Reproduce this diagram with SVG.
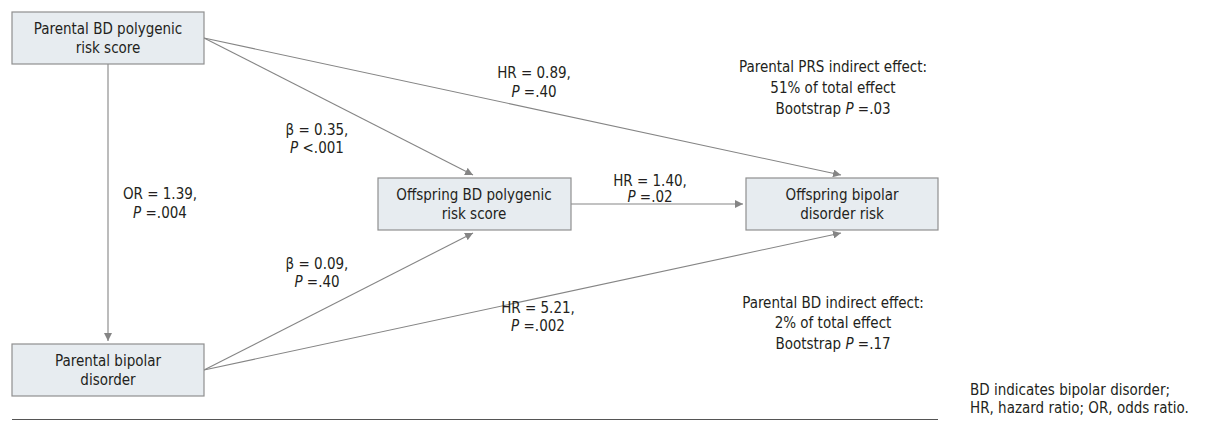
<svg xmlns="http://www.w3.org/2000/svg" width="1216" height="421" viewBox="0 0 1216 421">
<defs>
<style>
.box{fill:#e7ecf0;stroke:#8f8f8f;stroke-width:1.2}
.t{font-family:"DejaVu Sans Condensed","Liberation Sans",Arial,sans-serif;font-size:15px;fill:#231f20;text-anchor:middle}
.l{font-family:"DejaVu Sans Condensed","Liberation Sans",Arial,sans-serif;font-size:15px;fill:#231f20}
.e{stroke:#858585;stroke-width:1.1;fill:none}
</style>
<marker id="ah" viewBox="0 0 10 10" refX="10" refY="5" markerWidth="8" markerHeight="8" markerUnits="userSpaceOnUse" orient="auto">
<path d="M0,0 L10,5 L0,10 Z" fill="#858585"/>
</marker>
</defs>
<rect width="1216" height="421" fill="#ffffff"/>
<g id="connectors">
<line class="e" x1="108" y1="64" x2="108" y2="341" marker-end="url(#ah)"/>
<line class="e" x1="204" y1="38" x2="473" y2="175" marker-end="url(#ah)"/>
<line class="e" x1="204" y1="38" x2="841" y2="175" marker-end="url(#ah)"/>
<line class="e" x1="204" y1="370" x2="473" y2="233" marker-end="url(#ah)"/>
<line class="e" x1="204" y1="370" x2="841" y2="233" marker-end="url(#ah)"/>
<line class="e" x1="571" y1="204" x2="743" y2="204" marker-end="url(#ah)"/>
</g>
<g id="node-parental-prs">
<rect class="box" x="12" y="12" width="192" height="52"/>
<text class="t" x="108" y="34">Parental BD polygenic</text>
<text class="t" x="108" y="53">risk score</text>
</g>
<g id="node-parental-bd">
<rect class="box" x="12" y="344" width="192" height="52"/>
<text class="t" x="108" y="366">Parental bipolar</text>
<text class="t" x="108" y="385">disorder</text>
</g>
<g id="node-offspring-prs">
<rect class="box" x="378" y="178" width="193" height="52"/>
<text class="t" x="474" y="200">Offspring BD polygenic</text>
<text class="t" x="474" y="219">risk score</text>
</g>
<g id="node-offspring-bd">
<rect class="box" x="746" y="178" width="192" height="52"/>
<text class="t" x="842" y="200">Offspring bipolar</text>
<text class="t" x="842" y="219">disorder risk</text>
</g>
<g id="labels">
<text class="t" x="534" y="78">HR = 0.89,</text>
<text class="t" x="534" y="97"><tspan font-style="italic">P</tspan> =.40</text>
<text class="t" x="317" y="135">β = 0.35,</text>
<text class="t" x="317" y="153"><tspan font-style="italic">P</tspan> &lt;.001</text>
<text class="t" x="160" y="199">OR = 1.39,</text>
<text class="t" x="160" y="218"><tspan font-style="italic">P</tspan> =.004</text>
<text class="t" x="317" y="269">β = 0.09,</text>
<text class="t" x="317" y="287"><tspan font-style="italic">P</tspan> =.40</text>
<text class="t" x="650" y="186">HR = 1.40,</text>
<text class="t" x="650" y="202"><tspan font-style="italic">P</tspan> =.02</text>
<text class="t" x="538" y="313">HR = 5.21,</text>
<text class="t" x="538" y="331"><tspan font-style="italic">P</tspan> =.002</text>
<text class="t" x="833" y="72">Parental PRS indirect effect:</text>
<text class="t" x="833" y="93">51% of total effect</text>
<text class="t" x="833" y="114">Bootstrap <tspan font-style="italic">P</tspan> =.03</text>
<text class="t" x="833" y="308">Parental BD indirect effect:</text>
<text class="t" x="833" y="328">2% of total effect</text>
<text class="t" x="833" y="349">Bootstrap <tspan font-style="italic">P</tspan> =.17</text>
</g>
<line x1="12" y1="419.5" x2="938" y2="419.5" stroke="#555" stroke-width="1"/>
<g id="footnote">
<text class="l" x="970" y="395">BD indicates bipolar disorder;</text>
<text class="l" x="970" y="413">HR, hazard ratio; OR, odds ratio.</text>
</g>
</svg>
